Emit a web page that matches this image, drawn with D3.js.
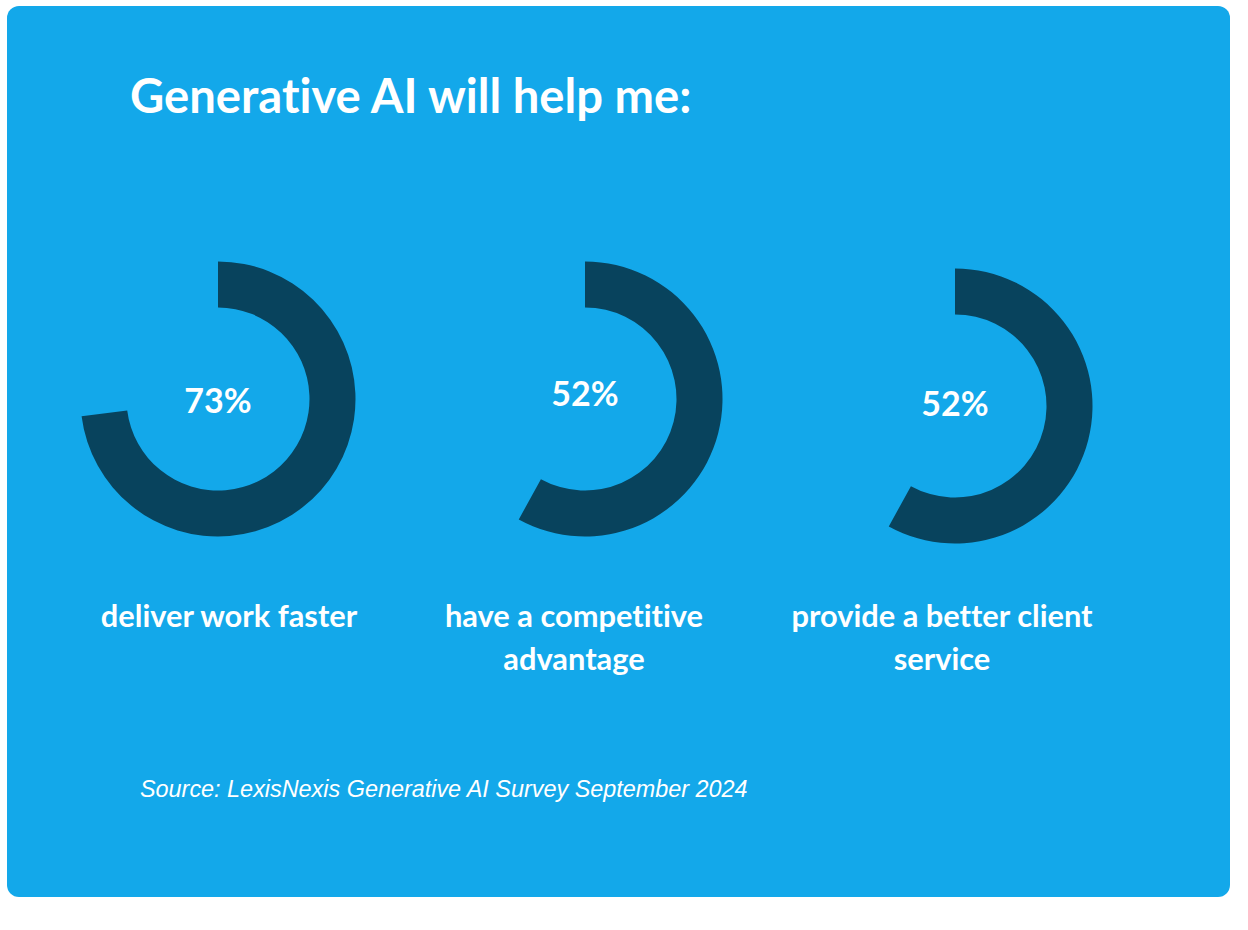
<!DOCTYPE html>
<html>
<head>
<meta charset="utf-8">
<script src="https://cdn.jsdelivr.net/npm/d3@7"></script>
<style>
  html, body { margin: 0; padding: 0; background: #ffffff; }
  svg { display: block; }
  text { font-variant-ligatures: none; font-feature-settings: "liga" 0, "clig" 0; }
</style>
</head>
<body>
<svg id="chart" width="1248" height="930"></svg>
<script>
// ---- data ----
const title = "Generative AI will help me:";
const categories = [
  ["deliver work faster"],
  ["have a competitive", "advantage"],
  ["provide a better client", "service"]
];
const percentLabels = [73, 52, 52];          // printed values
const arcShares = [0.73, 0.58, 0.58];        // arc extent as drawn in the picture
const source = "Source: LexisNexis Generative AI Survey September 2024";

// ---- layout ----
const svg = d3.select("#chart");
const bg = "#13A8EA", dark = "#08435D";

svg.append("rect")
  .attr("x", 7).attr("y", 6).attr("width", 1223).attr("height", 891)
  .attr("rx", 12).attr("ry", 12).attr("fill", bg);

svg.append("text")
  .attr("x", 130).attr("y", 113)
  .attr("fill", "#fff")
  .attr("font-family", "Lato, 'Open Sans', sans-serif")
  .attr("font-weight", 700)
  .attr("font-size", 47.2)
  .text(title);

const centers = [{x: 218, y: 399}, {x: 585, y: 399}, {x: 955, y: 406}];
const labelOffsets = [0, -7, -4];
const catCenters = [229, 574, 942];

const angle = d3.scaleLinear().domain([0, 1]).range([0, 2 * Math.PI]);
const arc = d3.arc().innerRadius(91.5).outerRadius(137.5);

const g = svg.selectAll("g.donut")
  .data(arcShares.map((s, i) => ({s, i})))
  .join("g")
  .attr("class", "donut")
  .attr("transform", d => `translate(${centers[d.i].x},${centers[d.i].y})`);

g.append("path")
  .attr("d", d => arc({startAngle: 0, endAngle: angle(d.s)}))
  .attr("fill", dark);

g.append("text")
  .attr("text-anchor", "middle")
  .attr("dominant-baseline", "central")
  .attr("y", d => labelOffsets[d.i])
  .attr("fill", "#fff")
  .attr("font-family", "Lato, sans-serif")
  .attr("font-weight", 700)
  .attr("font-size", 34)
  .text(d => percentLabels[d.i] + "%");

categories.forEach((lines, i) => {
  const t = svg.append("text")
    .attr("text-anchor", "middle")
    .attr("fill", "#fff")
    .attr("font-family", "Lato, sans-serif")
    .attr("font-weight", 700)
    .attr("font-size", 30.8);
  lines.forEach((ln, j) => {
    t.append("tspan").attr("x", catCenters[i]).attr("y", 627 + j * 43).text(ln);
  });
});

svg.append("text")
  .attr("x", 140).attr("y", 797)
  .attr("fill", "#fff")
  .attr("font-family", "'Liberation Sans', Arial, sans-serif")
  .attr("font-style", "italic")
  .attr("font-size", 23.4)
  .text(source);
</script>
</body>
</html>
